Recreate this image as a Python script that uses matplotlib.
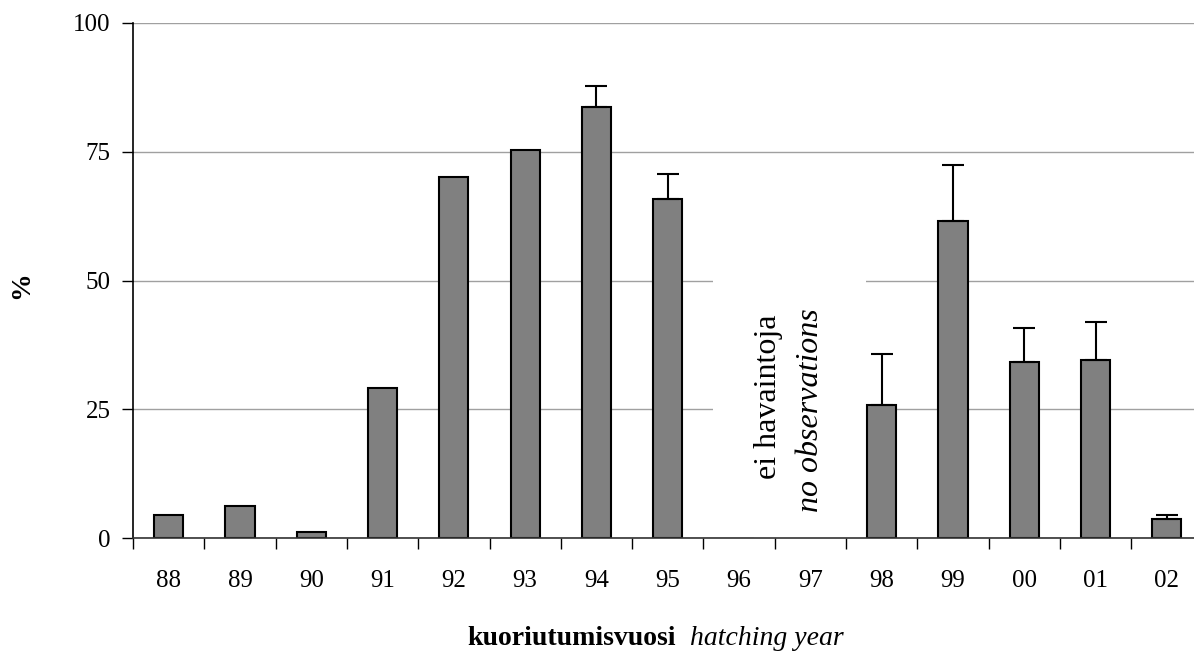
import matplotlib.pyplot as plt
import numpy as np

# kuoriutumisvuosi / hatching year
years = ['88', '89', '90', '91', '92', '93', '94', '95', '96', '97', '98', '99', '00', '01', '02']
percent = [4.6, 6.2, 1.2, 29.2, 70.0, 75.4, 83.6, 65.8, np.nan, np.nan, 25.8, 61.5, 34.2, 34.6, 3.8]
err_up = [0, 0, 0, 0, 0, 0, 4.2, 4.9, 0, 0, 10.0, 10.9, 6.6, 7.4, 0.8]

plt.rcParams['font.family'] = ['Liberation Serif', 'DejaVu Serif']

fig = plt.figure(figsize=(11.94, 6.54), dpi=100)
# the plot runs past the right edge of the picture, as in the original
ax = fig.add_axes([0.1114, 0.177, 0.8957, 0.788])

x = np.arange(len(years))
ax.bar(x, percent, width=0.41, color='#808080', edgecolor='black', linewidth=1.5, zorder=2)

with_err = [i for i in x if err_up[i] > 0]
ax.errorbar(x[with_err], np.array(percent)[with_err],
            yerr=[np.zeros(len(with_err)), np.array(err_up)[with_err]],
            fmt='none', ecolor='black', elinewidth=1.5, capsize=8, capthick=1.5, zorder=3)

ax.set_xlim(-0.5, len(years) - 0.5)
ax.set_ylim(0, 100)
ax.set_yticks([0, 25, 50, 75, 100])
ax.set_xticks(x)
ax.set_xticklabels(years)
ax.set_xticks(np.arange(-0.5, len(years), 1), minor=True)
ax.tick_params(axis='x', which='major', length=0, pad=23, labelsize=18)
ax.tick_params(axis='x', which='minor', length=8, width=1, direction='out')
ax.tick_params(axis='y', length=8, width=1, pad=8, labelsize=18)

ax.set_axisbelow(True)
ax.grid(axis='y', color='#a0a0a0', linewidth=1)
for s in ['top', 'right']:
    ax.spines[s].set_visible(False)
ax.spines['left'].set_linewidth(1.2)
ax.spines['bottom'].set_linewidth(1.2)
ax.spines['bottom'].set_color('#333333')

# white area behind the note hides the gridlines there
notes = [(8.42, 27.4, 'ei havaintoja', 'normal'), (9.0, 24.9, 'no observations', 'italic')]
for nx, ny, txt, st in notes:
    ax.text(nx, ny, txt, rotation=90, ha='center', va='center', fontsize=23, style=st,
            color='white', bbox=dict(facecolor='white', edgecolor='none', pad=30),
            zorder=1, clip_on=True)
for nx, ny, txt, st in notes:
    ax.text(nx, ny, txt, rotation=90, ha='center', va='center', fontsize=23, style=st, zorder=4)

fig.text(22 / 1194, 1 - 285 / 654, '%', rotation=90, ha='center', va='center',
         fontsize=20, fontweight='bold')
fig.text(0.566, 0.024, 'kuoriutumisvuosi', ha='right', va='center', fontsize=20, fontweight='bold')
fig.text(0.578, 0.024, 'hatching year', ha='left', va='center', fontsize=20, style='italic')

plt.savefig('out.png', dpi=100)
